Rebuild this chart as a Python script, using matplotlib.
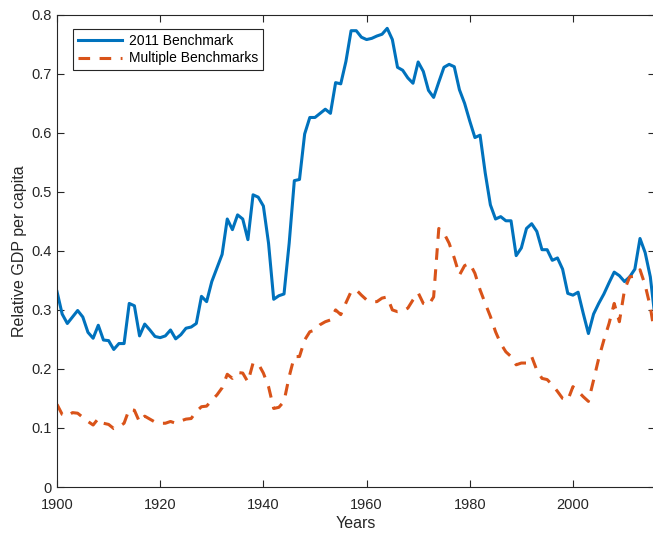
import numpy as np
import matplotlib.pyplot as plt

plt.rcParams['font.family'] = ['Liberation Sans', 'DejaVu Sans']

# Years covered by both series
years = np.arange(1900, 2017)

# Relative GDP per capita, 2011 benchmark
bench_2011 = [
    0.331, 0.293, 0.277, 0.288, 0.299, 0.288, 0.262, 0.252, 0.274, 0.249,  # 1900s
    0.248, 0.233, 0.243, 0.243, 0.311, 0.307, 0.256, 0.276, 0.266, 0.255,  # 1910s
    0.253, 0.256, 0.266, 0.251, 0.258, 0.269, 0.271, 0.277, 0.323, 0.314,  # 1920s
    0.348, 0.371, 0.394, 0.454, 0.436, 0.461, 0.454, 0.419, 0.495, 0.491,  # 1930s
    0.476, 0.413, 0.318, 0.324, 0.327, 0.413, 0.519, 0.521, 0.598, 0.626,  # 1940s
    0.626, 0.633, 0.640, 0.633, 0.685, 0.683, 0.721, 0.773, 0.773, 0.762,  # 1950s
    0.758, 0.760, 0.764, 0.767, 0.777, 0.758, 0.711, 0.706, 0.693, 0.684,  # 1960s
    0.720, 0.704, 0.672, 0.660, 0.686, 0.711, 0.716, 0.712, 0.673, 0.650,  # 1970s
    0.620, 0.592, 0.596, 0.532, 0.478, 0.454, 0.458, 0.451, 0.451, 0.392,  # 1980s
    0.405, 0.438, 0.446, 0.433, 0.402, 0.402, 0.384, 0.388, 0.369, 0.328,  # 1990s
    0.325, 0.330, 0.294, 0.260, 0.293, 0.311, 0.327, 0.346, 0.364, 0.358,  # 2000s
    0.348, 0.356, 0.369, 0.421, 0.397, 0.356, 0.280,                       # 2010s
]

# Relative GDP per capita, multiple benchmarks
bench_multi = [
    0.140, 0.123, 0.120, 0.126, 0.125, 0.118, 0.111, 0.105, 0.116, 0.108,
    0.106, 0.099, 0.102, 0.108, 0.132, 0.130, 0.110, 0.120, 0.115, 0.110,
    0.108, 0.108, 0.111, 0.108, 0.112, 0.115, 0.116, 0.128, 0.136, 0.137,
    0.147, 0.156, 0.168, 0.191, 0.184, 0.194, 0.193, 0.178, 0.210, 0.209,
    0.193, 0.170, 0.133, 0.135, 0.145, 0.187, 0.221, 0.221, 0.249, 0.263,
    0.266, 0.275, 0.280, 0.283, 0.300, 0.292, 0.312, 0.331, 0.334, 0.325,
    0.317, 0.314, 0.314, 0.320, 0.322, 0.300, 0.297, 0.298, 0.303, 0.317,
    0.329, 0.311, 0.308, 0.322, 0.438, 0.430, 0.413, 0.388, 0.359, 0.375,
    0.379, 0.362, 0.334, 0.311, 0.289, 0.263, 0.243, 0.229, 0.221, 0.207,
    0.210, 0.210, 0.221, 0.198, 0.184, 0.182, 0.173, 0.162, 0.150, 0.147,
    0.170, 0.162, 0.153, 0.145, 0.181, 0.218, 0.249, 0.277, 0.311, 0.280,
    0.334, 0.356, 0.357, 0.368, 0.342, 0.305, 0.250,
]

fig = plt.figure(figsize=(6.53, 5.33), dpi=100)
ax = fig.add_axes([0.0873, 0.0863, 0.9165, 0.886])

ax.plot(years, bench_2011, color='#0072BD', lw=2.2, label='2011 Benchmark')
ax.plot(years, bench_multi, color='#D95319', lw=2.2, linestyle=(0, (3.8, 3.1)),
        label='Multiple Benchmarks')

ax.set_xlim(1900, 2016)
ax.set_ylim(0, 0.8)
ax.set_xticks(np.arange(1900, 2001, 20))
ax.set_yticks(np.arange(0, 0.81, 0.1))
ax.set_yticklabels(['0', '0.1', '0.2', '0.3', '0.4', '0.5', '0.6', '0.7', '0.8'])

edge = '#262626'
for s in ax.spines.values():
    s.set_color(edge)
    s.set_linewidth(0.8)
ax.tick_params(direction='in', length=5, width=0.8, colors=edge,
               top=True, right=True, labelsize=10.5)
ax.tick_params(axis='x', pad=8)
ax.tick_params(axis='y', pad=4)

ax.set_xlabel('Years', fontsize=11.5, color=edge, labelpad=3)
ax.set_ylabel('Relative GDP per capita', fontsize=11.5, color=edge, labelpad=3)

leg = ax.legend(loc='upper left', bbox_to_anchor=(0.027, 0.970), borderaxespad=0,
                fontsize=10, fancybox=False, framealpha=1, edgecolor=edge,
                handlelength=3.2, handletextpad=0.45, labelspacing=0.26,
                borderpad=0.35)
leg.get_frame().set_linewidth(0.8)

fig.savefig('out.png', dpi=100)
